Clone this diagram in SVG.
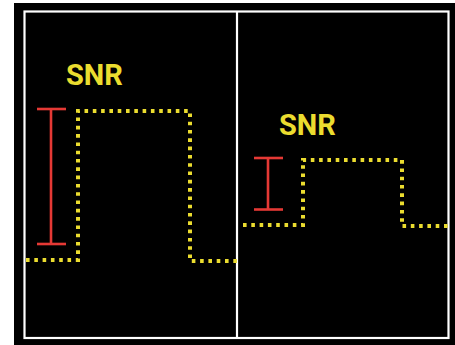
<svg xmlns="http://www.w3.org/2000/svg" width="455" height="345" viewBox="0 0 455 345">
  <style>
    .frame { fill: none; stroke: #ffffff; stroke-width: 2.2; }
    .wave { fill: none; stroke: #ebdc2f; stroke-width: 4; stroke-dasharray: 3.6 4.7; stroke-linejoin: miter; }
    .bar { fill: none; stroke: #e53935; stroke-width: 2.6; }
    .label { font-family: Roboto, "Liberation Sans", sans-serif; font-weight: 700; font-size: 29px; fill: #ebdc2f; }
  </style>
  <rect x="0" y="0" width="455" height="345" fill="#ffffff"/>
  <rect x="14" y="3" width="441" height="342" fill="#000000"/>
  <g id="frame">
    <rect class="frame" x="24.5" y="11.5" width="424" height="326.5"/>
    <line class="frame" x1="237" y1="11.5" x2="237" y2="338"/>
  </g>
  <g id="left-panel">
    <polyline class="wave" points="26,260 78,260 78,111 190,111 190,261 237,261"/>
    <g id="left-bar">
      <line class="bar" x1="51" y1="109" x2="51" y2="244"/>
      <line class="bar" x1="37" y1="109" x2="66" y2="109"/>
      <line class="bar" x1="37" y1="244" x2="66" y2="244"/>
    </g>
    <text class="label" x="66" y="84.5">SNR</text>
  </g>
  <g id="right-panel">
    <polyline class="wave" points="243,225 303,225 303,160 402,160 402,226 449,226"/>
    <g id="right-bar">
      <line class="bar" x1="268" y1="158" x2="268" y2="209.5"/>
      <line class="bar" x1="254" y1="158" x2="283" y2="158"/>
      <line class="bar" x1="254" y1="209.5" x2="283" y2="209.5"/>
    </g>
    <text class="label" x="279" y="134.5">SNR</text>
  </g>
</svg>
